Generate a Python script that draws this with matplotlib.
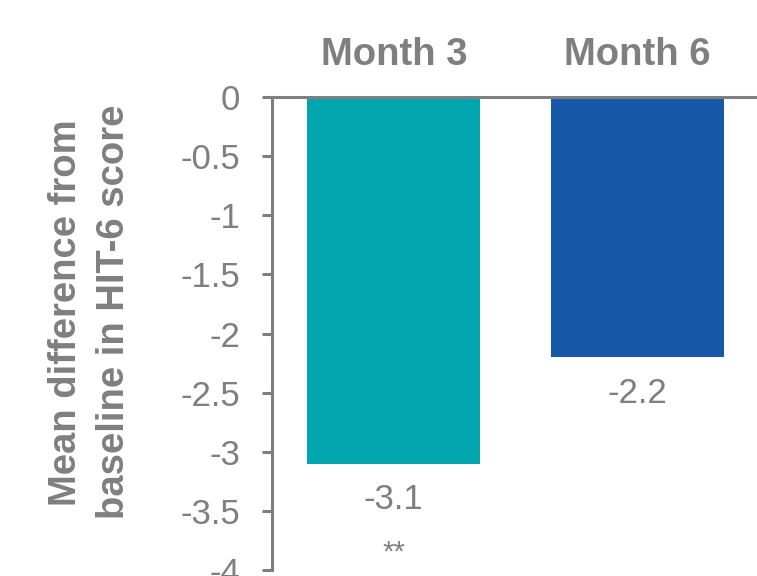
import matplotlib.pyplot as plt

plt.rcParams['font.family'] = ['Liberation Sans', 'DejaVu Sans']

months = ["Month 3", "Month 6"]
mean_diff = [-3.1, -2.2]
significance = ["**", ""]
bar_colors = ["#00A5AD", "#1659A8"]
yticks = [0, -0.5, -1, -1.5, -2, -2.5, -3, -3.5, -4]

grey = "#7F7F7F"

fig = plt.figure(figsize=(7.57, 5.76), dpi=100)
ax = fig.add_axes([0.3593, 0.0104, 0.6407, 0.8212])

x = range(len(months))
ax.bar(x, mean_diff, width=0.71, color=bar_colors, zorder=2)

ax.set_ylim(-4, 0)
ax.set_xlim(-0.5, 1.49)
ax.set_yticks(yticks)
ax.set_yticklabels([f"{t:g}" for t in yticks])

# categories sit above the zero line
ax.xaxis.set_ticks_position("top")
ax.set_xticks(list(x))
ax.set_xticklabels(months, fontsize=27.5, fontweight="bold", color=grey)
ax.tick_params(axis="x", length=0, pad=17)
ax.tick_params(axis="y", length=7, width=2.2, color=grey, labelcolor=grey,
               labelsize=25, pad=16)

for side in ["right", "bottom"]:
    ax.spines[side].set_visible(False)
for side in ["top", "left"]:
    ax.spines[side].set_color(grey)
    ax.spines[side].set_linewidth(2.2)
ax.spines["top"].set_zorder(3)

for i, (v, s) in enumerate(zip(mean_diff, significance)):
    ax.annotate(f"{v:g}", (i, v), xytext=(0, -26), textcoords="offset points",
                ha="center", va="center", fontsize=25, color=grey)
    if s:
        ax.annotate(s, (i, v), xytext=(0, -64), textcoords="offset points",
                    ha="center", va="center", fontsize=21, color=grey)

fig.text(0.119, 0.458, "Mean difference from\nbaseline in HIT-6 score",
         rotation=90, ha="center", va="center", fontsize=27.5,
         fontweight="bold", color=grey, linespacing=1.4)

fig.savefig("out.png", dpi=100)
